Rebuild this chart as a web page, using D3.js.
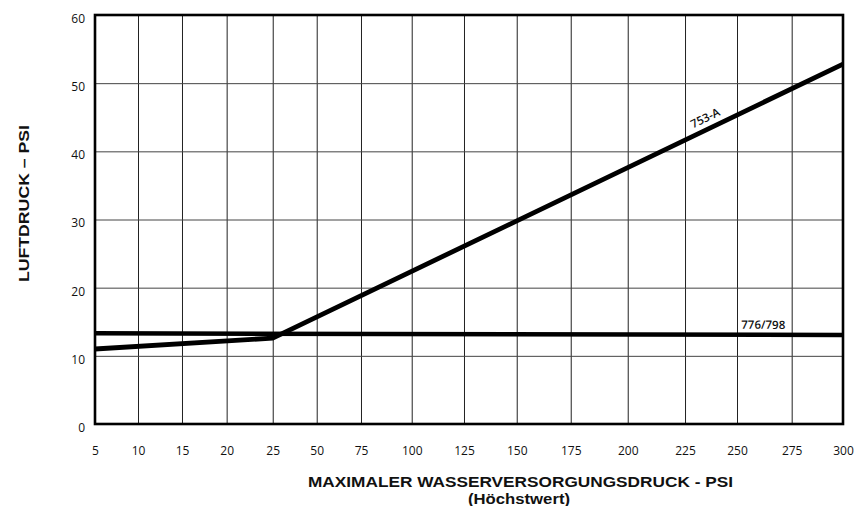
<!DOCTYPE html>
<html>
<head>
<meta charset="utf-8">
<script src="https://cdn.jsdelivr.net/npm/d3@7"></script>
<style>
  html, body { margin: 0; padding: 0; background: #fff; }
  svg { display: block; }
</style>
</head>
<body>
<svg id="chart" width="857" height="506"></svg>
<script>
// ---- data ----
const xTickValues = [5, 10, 15, 20, 25, 50, 75, 100, 125, 150, 175, 200, 225, 250, 275, 300];
const yTickValues = [0, 10, 20, 30, 40, 50, 60];

const series753X = [5, 25, 300];
const series753Y = [11.0, 12.6, 52.8];
const series753Label = "753-A";

const series776X = [5, 300];
const series776Y = [13.3, 13.05];
const series776Label = "776/798";

const xTitle = "MAXIMALER WASSERVERSORGUNGSDRUCK - PSI";
const xSubTitle = "(Höchstwert)";
const yTitle = "LUFTDRUCK – PSI";

// ---- layout ----
const W = 857, H = 506;
const m = { left: 95, right: 14, top: 15, bottom: 82 };
const pw = W - m.left - m.right;
const ph = H - m.top - m.bottom;

// the printed chart's grid columns are not evenly spaced; fractional stops of the plot width
const gridStops = [0, .0575, .1163, .176, .2376, .2964, .3556, .4234, .4933, .5638, .636, .7122, .7888, .8583, .9314, 1];

const x = d3.scaleLinear().domain(xTickValues).range(gridStops.map(f => f * pw));
const y = d3.scaleLinear().domain([0, 60]).range([ph, 0]);

const svg = d3.select("#chart");
const g = svg.append("g").attr("transform", `translate(${m.left},${m.top})`);

const tickFont = "'Open Sans', 'Noto Sans', sans-serif";

// grid
g.append("g").attr("class", "xgrid")
  .call(d3.axisBottom(x).tickValues(xTickValues).tickSize(-ph).tickFormat(""))
  .attr("transform", `translate(0,${ph})`)
  .call(s => s.select(".domain").remove())
  .call(s => s.selectAll("line").attr("stroke", "#222").attr("stroke-width", 1));

g.append("g").attr("class", "ygrid")
  .call(d3.axisLeft(y).tickValues(yTickValues).tickSize(-pw).tickFormat(""))
  .call(s => s.select(".domain").remove())
  .call(s => s.selectAll("line").attr("stroke", "#444").attr("stroke-width", 1));

// x tick labels
g.append("g").attr("class", "xaxis")
  .attr("transform", `translate(0,${ph})`)
  .call(d3.axisBottom(x).tickValues(xTickValues).tickSize(0).tickPadding(22).tickFormat(d3.format("d")))
  .call(s => s.select(".domain").remove())
  .call(s => s.selectAll("text").attr("font-family", tickFont).attr("font-size", 12).attr("fill", "#111"));

// y tick labels
g.append("g").attr("class", "yaxis")
  .call(d3.axisLeft(y).tickValues(yTickValues).tickSize(0).tickPadding(10).tickFormat(d3.format("d")))
  .call(s => s.select(".domain").remove())
  .call(s => s.selectAll("text").attr("font-family", tickFont).attr("font-size", 12).attr("fill", "#111").attr("dy", "0.62em"));

// frame
g.append("rect").attr("x", 0).attr("y", 0).attr("width", pw).attr("height", ph)
  .attr("fill", "none").attr("stroke", "#000").attr("stroke-width", 2.6);

// lines
const line = d3.line().x(d => x(d[0])).y(d => y(d[1]));
const d753 = d3.zip(series753X, series753Y);
const d776 = d3.zip(series776X, series776Y);

g.append("path").datum(d776).attr("d", line)
  .attr("fill", "none").attr("stroke", "#000").attr("stroke-width", 4.5);
g.append("path").datum(d753).attr("d", line)
  .attr("fill", "none").attr("stroke", "#000").attr("stroke-width", 4.8)
  .attr("stroke-linejoin", "round");

// labels along lines
function pointOn(data, xv) {
  for (let i = 0; i < data.length - 1; i++) {
    const a = data[i], b = data[i + 1];
    if (xv >= a[0] && xv <= b[0]) {
      const px = x(xv);
      const ax = x(a[0]), bx = x(b[0]), ay = y(a[1]), by = y(b[1]);
      const t = (px - ax) / (bx - ax);
      return { px, py: ay + t * (by - ay), ang: Math.atan2(by - ay, bx - ax) * 180 / Math.PI };
    }
  }
}
const p753 = pointOn(d753, 237);
g.append("text").text(series753Label)
  .attr("transform", `translate(${p753.px},${p753.py}) rotate(${p753.ang})`)
  .attr("dy", -7).attr("text-anchor", "middle")
  .attr("font-family", tickFont).attr("font-size", 11.5).attr("font-weight", 600).attr("fill", "#111");

const p776 = pointOn(d776, 262);
g.append("text").text(series776Label)
  .attr("transform", `translate(${p776.px},${p776.py}) rotate(${p776.ang})`)
  .attr("dy", -6).attr("text-anchor", "middle")
  .attr("font-family", tickFont).attr("font-size", 11.5).attr("font-weight", 600).attr("fill", "#111");

// titles
const titleFont = "'Liberation Sans', Arial, sans-serif";
svg.append("text").text(xTitle)
  .attr("x", m.left + 425.5).attr("y", 487)
  .attr("text-anchor", "middle").attr("font-family", titleFont).attr("font-weight", "bold")
  .attr("font-size", 15.5).attr("textLength", 425).attr("lengthAdjust", "spacingAndGlyphs").attr("fill", "#111");
svg.append("text").text(xSubTitle)
  .attr("x", 519).attr("y", 503.5)
  .attr("text-anchor", "middle").attr("font-family", titleFont).attr("font-weight", "bold")
  .attr("font-size", 15).attr("textLength", 102).attr("lengthAdjust", "spacingAndGlyphs").attr("fill", "#111");

svg.append("text").text(yTitle)
  .attr("transform", `translate(29,${203.5}) rotate(-90)`)
  .attr("text-anchor", "middle").attr("font-family", titleFont).attr("font-weight", "bold")
  .attr("font-size", 15.5).attr("textLength", 157).attr("lengthAdjust", "spacingAndGlyphs").attr("fill", "#111");
</script>
</body>
</html>
